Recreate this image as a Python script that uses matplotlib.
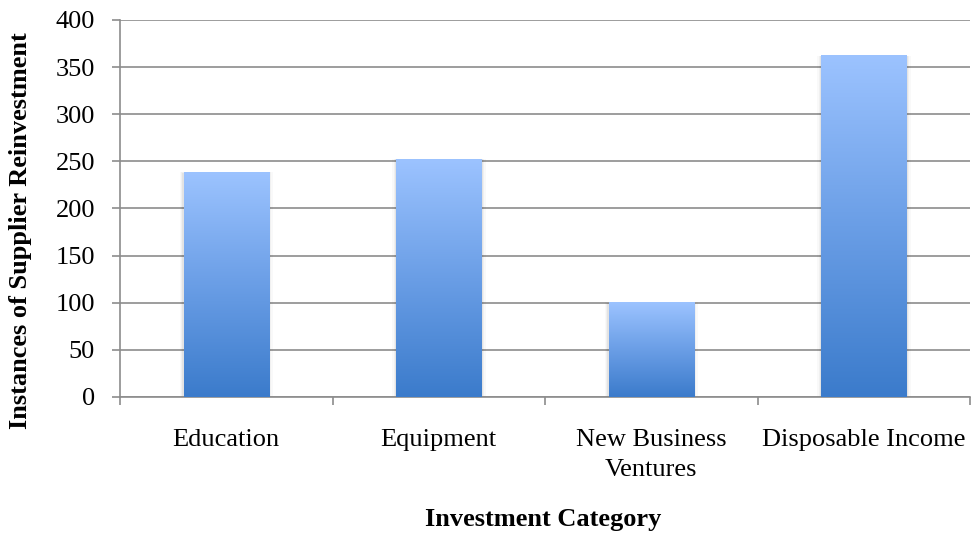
import numpy as np
import matplotlib.pyplot as plt
from matplotlib.colors import LinearSegmentedColormap

categories = ["Education", "Equipment", "New Business\nVentures", "Disposable Income"]
values = [238, 252, 100, 362]

plt.rcParams['font.family'] = ['Liberation Serif', 'DejaVu Serif']

fig = plt.figure(figsize=(9.71, 5.33), dpi=100)
ax = fig.add_axes([0.1236, 0.2552, 0.8754, 0.7073])

x = np.arange(len(categories))
bars = ax.bar(x, values, width=0.4, color="none", edgecolor="none", zorder=3)

# vertical gradient, dark at the base and light at the top of each bar
cmap = LinearSegmentedColormap.from_list("bar_grad", ["#3b7bcb", "#6a9ee6", "#9cc3ff"])
grad = np.linspace(0, 1, 256).reshape(-1, 1)
for rect in bars:
    x0, w, h = rect.get_x(), rect.get_width(), rect.get_height()
    # soft shadow around each bar
    for k, a in zip([0.02, 0.012, 0.006], [0.025, 0.035, 0.05]):
        ax.add_patch(plt.Rectangle((x0 - k, 0), w + 2 * k, h + k * 15,
                                   color="#000000", alpha=a, lw=0, zorder=2.5))
    ax.imshow(grad, cmap=cmap, origin="lower", aspect="auto",
              extent=(x0, x0 + w, 0, h), zorder=3, interpolation="bicubic")

ax.set_xlim(-0.5, len(categories) - 0.5)
ax.set_ylim(0, 400)
ax.set_yticks(np.arange(0, 401, 50))
ax.yaxis.grid(True, color="#8c8c8c", lw=1.2, zorder=1)
ax.set_axisbelow(True)

ax.set_xticks(x)
ax.set_xticklabels(categories, fontsize=19, linespacing=1.45)
ax.tick_params(axis="x", length=0, pad=23)
ax.set_xticks(np.arange(-0.5, len(categories), 1.0), minor=True)
ax.tick_params(axis="x", which="minor", length=6, color="#8c8c8c", width=1.2)
ax.tick_params(axis="y", labelsize=19, length=6, color="#8c8c8c", width=1.2, pad=12)

for side in ["top", "right"]:
    ax.spines[side].set_visible(False)
for side in ["left", "bottom"]:
    ax.spines[side].set_color("#8c8c8c")
    ax.spines[side].set_linewidth(1.2)

fig.text(543 / 971, 1 - 526 / 533, "Investment Category", fontsize=19,
         fontweight="bold", ha="center", va="baseline")
fig.text(21 / 971, 1 - 231 / 533, "Instances of Supplier Reinvestment", fontsize=19,
         fontweight="bold", ha="center", va="center", rotation=90)

fig.savefig("out.png", dpi=100)
